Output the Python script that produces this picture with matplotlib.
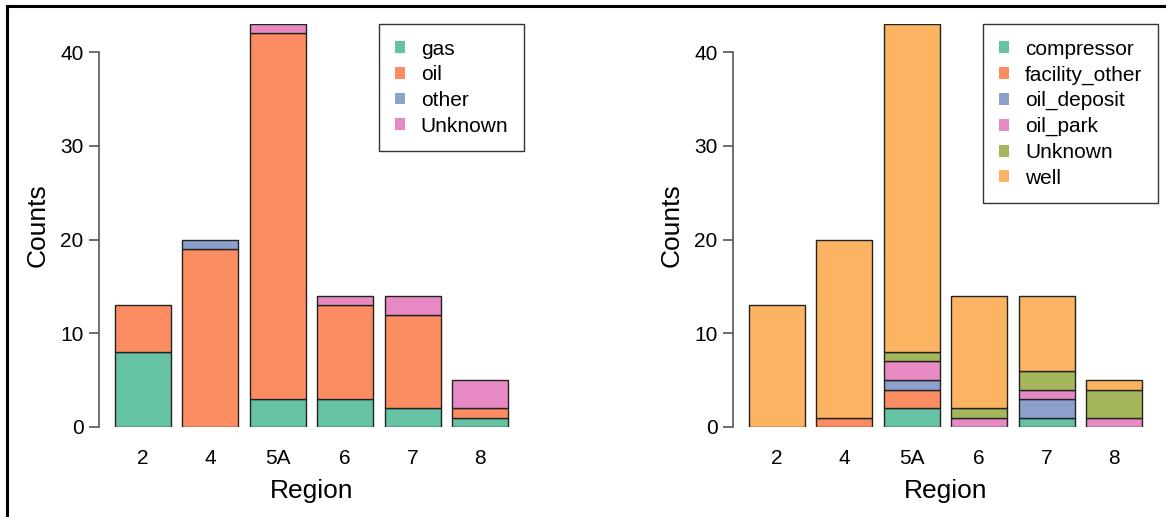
import numpy as np
import matplotlib.pyplot as plt
from matplotlib.patches import Patch
from matplotlib.lines import Line2D

plt.rcParams['font.family'] = ['Liberation Sans', 'DejaVu Sans']

regions = ['2', '4', '5A', '6', '7', '8']

# panel 1: counts by product type
prod_labels = ['gas', 'oil', 'other', 'Unknown']
gas = [8, 0, 3, 3, 2, 1]
oil = [5, 19, 39, 10, 10, 1]
other = [0, 1, 0, 0, 0, 0]
prod_unknown = [0, 0, 1, 1, 2, 3]
prod_colors = ['#66C2A5', '#FC8D62', '#8DA0CB', '#E78AC3']

# panel 2: counts by facility type
fac_labels = ['compressor', 'facility_other', 'oil_deposit', 'oil_park', 'Unknown', 'well']
compressor = [0, 0, 2, 0, 1, 0]
facility_other = [0, 1, 2, 0, 0, 0]
oil_deposit = [0, 0, 1, 0, 2, 0]
oil_park = [0, 0, 2, 1, 1, 1]
fac_unknown = [0, 0, 1, 1, 2, 3]
well = [13, 19, 35, 12, 8, 1]
fac_colors = ['#66C2A5', '#FC8D62', '#8DA0CB', '#E78AC3', '#A5B75C', '#FDB462']


def stacked(ax, series, colors, labels):
    x = 0.7 + 1.2 * np.arange(len(regions))
    bottom = np.zeros(len(regions))
    for vals, c in zip(series, colors):
        vals = np.array(vals, dtype=float)
        keep = vals > 0
        ax.bar(x[keep], vals[keep], width=1.0, bottom=bottom[keep], color=c,
               edgecolor='#222222', linewidth=1.0)
        bottom += vals
    ax.set_xlim(-0.08, 7.48)
    ax.set_ylim(0, 43)
    ax.set_xticks(x)
    ax.set_xticklabels(regions, fontsize=15)
    ax.tick_params(axis='x', length=0, pad=16)
    ax.set_yticks([0, 10, 20, 30, 40])
    ax.tick_params(axis='y', length=7, width=1.2, color='#555555',
                   labelsize=15, pad=4, direction='out')
    for s in ['top', 'right', 'bottom']:
        ax.spines[s].set_visible(False)
    ax.spines['left'].set_bounds(0, 40)
    ax.spines['left'].set_color('#555555')
    ax.spines['left'].set_linewidth(1.2)
    ax.set_xlabel('Region', fontsize=19, labelpad=8)
    ax.set_ylabel('Counts', fontsize=19, labelpad=8)
    handles = [Patch(facecolor=c, edgecolor='none') for c in colors]
    leg = ax.legend(handles, labels, loc='upper right', fontsize=15,
                    frameon=True, fancybox=False, edgecolor='black',
                    handlelength=0.5, handleheight=0.5, handletextpad=0.75,
                    labelspacing=0.32, borderpad=0.75, borderaxespad=0.0)
    leg.get_frame().set_linewidth(1.0)


fig = plt.figure(figsize=(11.66, 5.17), dpi=100)
ax1 = fig.add_axes([0.0849, 0.1741, 0.3645, 0.7795])
ax2 = fig.add_axes([0.6286, 0.1741, 0.3645, 0.7795])

stacked(ax1, [gas, oil, other, prod_unknown], prod_colors, prod_labels)
stacked(ax2, [compressor, facility_other, oil_deposit, oil_park, fac_unknown, well],
        fac_colors, fac_labels)

# outer frame
fig.add_artist(Line2D([7 / 1166, 7 / 1166], [0, 1 - 6 / 517], color='black', lw=2.2,
                      transform=fig.transFigure))
fig.add_artist(Line2D([7 / 1166, 1], [1 - 6 / 517, 1 - 6 / 517], color='black', lw=2.2,
                      transform=fig.transFigure))

fig.savefig('out.png', dpi=100)
